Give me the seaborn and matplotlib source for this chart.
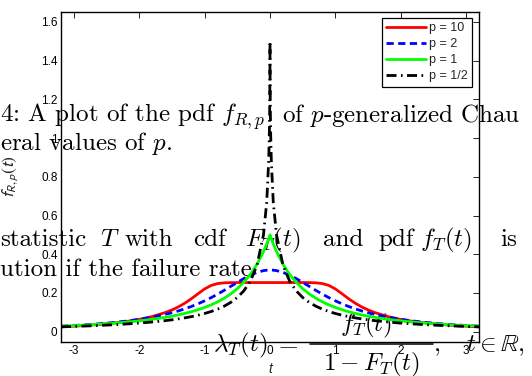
import matplotlib
matplotlib.use("Agg")
import matplotlib.pyplot as plt
from matplotlib.lines import Line2D
import pandas as pd
import seaborn as sns

# Tabulated density values f_{R,p}(t) of the p-generalized Cauchy law
t = [-3.2, -3.0, -2.8, -2.6, -2.4, -2.2, -2.0, -1.8, -1.6, -1.5, -1.4, -1.3,
     -1.2, -1.1, -1.0, -0.9, -0.8, -0.7, -0.6, -0.5, -0.4, -0.3, -0.2, -0.1,
     -0.05, -0.02, -0.01, -0.005, -0.001, -0.0001,
     0.0,
     0.0001, 0.001, 0.005, 0.01, 0.02, 0.05,
     0.1, 0.2, 0.3, 0.4, 0.5, 0.6, 0.7, 0.8, 0.9, 1.0, 1.1, 1.2, 1.3, 1.4,
     1.5, 1.6, 1.8, 2.0, 2.2, 2.4, 2.6, 2.8, 3.0, 3.2]

pdf_p10 = [0.0248, 0.0282, 0.0324, 0.0375, 0.0440, 0.0524, 0.0634, 0.0782,
           0.0989, 0.1123, 0.1285, 0.1480, 0.1709, 0.1964, 0.2208, 0.2389,
           0.2485, 0.2522, 0.2533, 0.2536, 0.2536, 0.2536, 0.2536, 0.2536,
           0.2536, 0.2536, 0.2536, 0.2536, 0.2536, 0.2536,
           0.2536,
           0.2536, 0.2536, 0.2536, 0.2536, 0.2536, 0.2536,
           0.2536, 0.2536, 0.2536, 0.2536, 0.2536, 0.2533, 0.2522, 0.2485,
           0.2389, 0.2208, 0.1964, 0.1709, 0.1480, 0.1285, 0.1123, 0.0989,
           0.0782, 0.0634, 0.0524, 0.0440, 0.0375, 0.0324, 0.0282, 0.0248]

pdf_p2 = [0.0283, 0.0318, 0.0360, 0.0410, 0.0471, 0.0545, 0.0637, 0.0751,
          0.0894, 0.0979, 0.1075, 0.1183, 0.1305, 0.1440, 0.1592, 0.1759,
          0.1941, 0.2136, 0.2341, 0.2546, 0.2744, 0.2920, 0.3061, 0.3152,
          0.3175, 0.3182, 0.3183, 0.3183, 0.3183, 0.3183,
          0.3183,
          0.3183, 0.3183, 0.3183, 0.3183, 0.3182, 0.3175,
          0.3152, 0.3061, 0.2920, 0.2744, 0.2546, 0.2341, 0.2136, 0.1941,
          0.1759, 0.1592, 0.1440, 0.1305, 0.1183, 0.1075, 0.0979, 0.0894,
          0.0751, 0.0637, 0.0545, 0.0471, 0.0410, 0.0360, 0.0318, 0.0283]

pdf_p1 = [0.0283, 0.0313, 0.0346, 0.0386, 0.0433, 0.0488, 0.0556, 0.0638,
          0.0740, 0.0800, 0.0868, 0.0945, 0.1033, 0.1134, 0.1250, 0.1385,
          0.1543, 0.1730, 0.1953, 0.2222, 0.2551, 0.2959, 0.3472, 0.4132,
          0.4535, 0.4806, 0.4901, 0.4950, 0.4990, 0.4999,
          0.5000,
          0.4999, 0.4990, 0.4950, 0.4901, 0.4806, 0.4535,
          0.4132, 0.3472, 0.2959, 0.2551, 0.2222, 0.1953, 0.1730, 0.1543,
          0.1385, 0.1250, 0.1134, 0.1033, 0.0945, 0.0868, 0.0800, 0.0740,
          0.0638, 0.0556, 0.0488, 0.0433, 0.0386, 0.0346, 0.0313, 0.0283]

pdf_p_half = [0.0248, 0.0269, 0.0294, 0.0322, 0.0355, 0.0395, 0.0442, 0.0499,
              0.0570, 0.0612, 0.0660, 0.0715, 0.0778, 0.0851, 0.0938, 0.1040,
              0.1165, 0.1318, 0.1513, 0.1766, 0.2112, 0.2614, 0.3420, 0.4998,
              0.6691, 0.8837, 1.0245, 1.1413, 1.3245, 1.4415,
              1.5000,
              1.4415, 1.3245, 1.1413, 1.0245, 0.8837, 0.6691,
              0.4998, 0.3420, 0.2614, 0.2112, 0.1766, 0.1513, 0.1318, 0.1165,
              0.1040, 0.0938, 0.0851, 0.0778, 0.0715, 0.0660, 0.0612, 0.0570,
              0.0499, 0.0442, 0.0395, 0.0355, 0.0322, 0.0294, 0.0269, 0.0248]

series_labels = ["p = 10", "p = 2", "p = 1", "p = 1/2"]
x_ticks = [-3, -2, -1, 0, 1, 2, 3]
x_tick_labels = ["-3", "-2", "-1", "0", "1", "2", "3"]
y_ticks = [0, 0.2, 0.4, 0.6, 0.8, 1.0, 1.2, 1.4, 1.6]
y_tick_labels = ["0", "0.2", "0.4", "0.6", "0.8", "1", "1.2", "1.4", "1.6"]

df = pd.DataFrame({"t": t, series_labels[0]: pdf_p10, series_labels[1]: pdf_p2,
                   series_labels[2]: pdf_p1, series_labels[3]: pdf_p_half})

sns.set_style("white")
plt.rcParams["font.family"] = ["Liberation Sans", "DejaVu Sans"]
plt.rcParams["mathtext.fontset"] = "cm"
plt.rcParams["axes.unicode_minus"] = False

W, H = 532, 376
fig = plt.figure(figsize=(W / 100, H / 100), dpi=100)
fig.patch.set_facecolor("white")
ax_l, ax_r, ax_t, ax_b = 61, 479, 12.3, 341.7
ax = fig.add_axes([ax_l / W, 1 - ax_b / H, (ax_r - ax_l) / W, (ax_b - ax_t) / H])
ax.set_facecolor("none")

styles = {
    "p = 10": dict(color="#ff0000", linestyle="-"),
    "p = 2": dict(color="#0000ff", linestyle=(0, (2.6, 1.6))),
    "p = 1": dict(color="#00ff00", linestyle="-"),
    "p = 1/2": dict(color="black", linestyle=(0, (3.6, 1.6, 0.6, 1.6))),
}
for name in series_labels:
    sns.lineplot(data=df, x="t", y=name, ax=ax, label=name, lw=2.0,
                 sort=False, estimator=None, **styles[name])

ax.set_xlim(-3.2, 3.2)
ax.set_ylim(-0.052, 1.65)
ax.set_xticks(x_ticks, x_tick_labels)
ax.set_yticks(y_ticks, y_tick_labels)
ax.tick_params(direction="in", length=4, width=0.6, top=True, right=True,
               labelsize=8.5, pad=2.5, colors="black")
for sp in ax.spines.values():
    sp.set_visible(True)
    sp.set_color("black")
    sp.set_linewidth(1.0)

ax.set_xlabel("t", fontsize=10, fontstyle="italic")
ax.xaxis.set_label_coords(0.5, -(362 - ax_b) / (ax_b - ax_t))
ax.set_ylabel(r"$f_{R,p}(t)$", fontsize=12.5, math_fontfamily="stixsans")
ax.yaxis.set_label_coords(-(61 - 21) / (ax_r - ax_l), 0.5)

leg = ax.legend(loc="upper right", bbox_to_anchor=(472 / W, 1 - 18 / H),
                bbox_transform=fig.transFigure, borderaxespad=0,
                fontsize=9, handlelength=3.2, handletextpad=0.2,
                labelspacing=0.32, borderpad=0.35, fancybox=False,
                framealpha=1, edgecolor="black")
leg.get_frame().set_linewidth(0.9)


# Running page text set in Computer Modern behind the transparent axes
def px(x, y):
    return x / W, 1 - y / H


def page_text(x, y, s, size=18, ha="left"):
    fig.text(*px(x, y), s, fontsize=size, family="cmr10", ha=ha,
             va="baseline", zorder=-1, color="black")


page_text(0, 122, r"4: A plot of the pdf $f_{R,p}$")
page_text(282, 122, r"of $p$-generalized Chau")
page_text(0, 150, r"eral values of $p$.")

for x, word in [(0, "statistic"), (100, r"$T$"), (125, "with"), (193, "cdf"),
                (245, r"$F_T(t)$"), (323, "and"), (378, "pdf"),
                (420, r"$f_T(t)$"), (500, "is")]:
    page_text(x, 246, word)
page_text(0, 276, "ution if the failure rate")

page_text(213, 351, r"$\lambda_T(t)\;=$")
page_text(366, 331, r"$f_T(t)$", ha="center")
page_text(371, 370, r"$1 - F_T(t)$", ha="center")
fig.add_artist(Line2D([310 / W, 433 / W], [1 - 344 / H, 1 - 344 / H],
                      transform=fig.transFigure, color="black", lw=1.1,
                      zorder=-1))
page_text(434, 351, ",")
page_text(466, 351, r"$t \in \mathbb{R}$,")

fig.savefig("out.png", dpi=100)
